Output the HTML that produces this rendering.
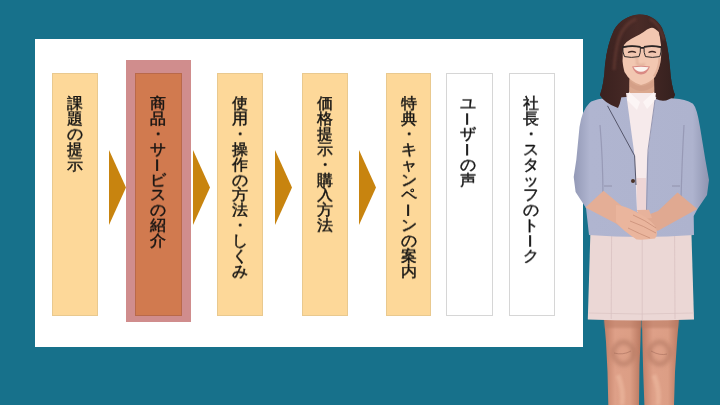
<!DOCTYPE html>
<html lang="ja"><head><meta charset="utf-8">
<style>
html,body{margin:0;padding:0;}
body{width:720px;height:405px;overflow:hidden;position:relative;background:#17718b;font-family:"Liberation Sans",sans-serif;}
.panel{position:absolute;left:35px;top:39px;width:548px;height:308px;background:#fff;}
.box{position:absolute;top:73px;height:243px;box-sizing:border-box;background:#fdd899;border:1px solid #e9c98f;}
.box.w{background:#fff;border:1px solid #d6d6d6;}
.hl{position:absolute;left:126px;top:60px;width:65px;height:262px;background:#d08d8d;}
.box.o{background:#d17a4f;border:1px solid #b9694a;}
.arr{position:absolute;top:150px;width:17px;height:75px;}
.t{position:absolute;top:95.5px;width:46px;text-align:center;font-size:15.5px;line-height:15.9px;transform:scaleY(0.96);transform-origin:0 0;color:#111;-webkit-text-stroke:0.45px #111;will-change:transform;}
.v{display:inline-block;transform:translateX(-2px) rotate(90deg) scaleX(0.88);}
</style></head><body>
<div class="panel"></div>
<div class="box" style="left:52px;width:46px"></div>
<div class="hl"></div>
<div class="box o" style="left:135px;width:47px"></div>
<div class="box" style="left:217px;width:46px"></div>
<div class="box" style="left:302px;width:46px"></div>
<div class="box" style="left:386px;width:45px"></div>
<div class="box w" style="left:446px;width:47px"></div>
<div class="box w" style="left:509px;width:46px"></div>
<svg class="arr" style="left:109px" viewBox="0 0 17 75"><polygon points="0,0 17,37.5 0,75" fill="#c8840f"/></svg>
<svg class="arr" style="left:192.5px" viewBox="0 0 17 75"><polygon points="0,0 17,37.5 0,75" fill="#c8840f"/></svg>
<svg class="arr" style="left:275px" viewBox="0 0 17 75"><polygon points="0,0 17,37.5 0,75" fill="#c8840f"/></svg>
<svg class="arr" style="left:359px" viewBox="0 0 17 75"><polygon points="0,0 17,37.5 0,75" fill="#c8840f"/></svg>
<div class="t" style="left:52px">課<br>題<br>の<br>提<br>示</div>
<div class="t" style="left:135px">商<br>品<br>・<br>サ<br><span class="v">ー</span><br>ビ<br>ス<br>の<br>紹<br>介</div>
<div class="t" style="left:217px">使<br>用<br>・<br>操<br>作<br>の<br>方<br>法<br>・<br>し<br>く<br>み</div>
<div class="t" style="left:302px">価<br>格<br>提<br>示<br>・<br>購<br>入<br>方<br>法</div>
<div class="t" style="left:386px">特<br>典<br>・<br>キ<br>ャ<br>ン<br>ペ<br><span class="v">ー</span><br>ン<br>の<br>案<br>内</div>
<div class="t" style="left:444.8px">ユ<br><span class="v">ー</span><br>ザ<br><span class="v">ー</span><br>の<br>声</div>
<div class="t" style="left:507.8px">社<br>長<br>・<br>ス<br>タ<br>ッ<br>フ<br>の<br>ト<br><span class="v">ー</span><br>ク</div>
<svg class="fig" width="720" height="405" viewBox="0 0 720 405" style="position:absolute;left:0;top:0">
<defs>
<linearGradient id="leg" x1="0" x2="1" y1="0" y2="0"><stop offset="0" stop-color="#c07e66"/><stop offset="0.3" stop-color="#dea088"/><stop offset="0.7" stop-color="#dc9e85"/><stop offset="1" stop-color="#b97860"/></linearGradient>
<linearGradient id="jk" x1="0" x2="1" y1="0" y2="0"><stop offset="0" stop-color="#9399b6"/><stop offset="0.12" stop-color="#b0b5d0"/><stop offset="0.88" stop-color="#aeb3ce"/><stop offset="1" stop-color="#8e94b0"/></linearGradient>
<linearGradient id="hair" x1="0" x2="1" y1="0" y2="0"><stop offset="0" stop-color="#3a211f"/><stop offset="0.5" stop-color="#4a2b27"/><stop offset="1" stop-color="#35201e"/></linearGradient>
<radialGradient id="knee" cx="0.5" cy="0.5" r="0.5"><stop offset="0" stop-color="#c78a72"/><stop offset="0.75" stop-color="#bb7e67"/><stop offset="1" stop-color="#d9a08a" stop-opacity="0"/></radialGradient>
<filter id="blur2" x="-50%" y="-50%" width="200%" height="200%"><feGaussianBlur stdDeviation="2"/></filter>
<filter id="blur1" x="-50%" y="-50%" width="200%" height="200%"><feGaussianBlur stdDeviation="1.2"/></filter>
</defs>
<!-- legs -->
<path d="M604,318 L641,318 L640.5,340 L639.5,365 L639,405 L608.3,405 L607.5,372 L606,342 Z" fill="url(#leg)"/>
<path d="M642,318 L679,318 L677,342 L675,372 L674,405 L644.4,405 L643.2,372 L642.4,342 Z" fill="url(#leg)"/>
<g filter="url(#blur2)" opacity="0.6">
<ellipse cx="623.5" cy="353" rx="10" ry="11" fill="none" stroke="#a96f5a" stroke-width="4"/>
<ellipse cx="659.5" cy="353" rx="10" ry="11" fill="none" stroke="#a96f5a" stroke-width="4"/>

</g>
<path d="M618,375 Q624,390 622,405 M654,375 Q660,390 658,405" stroke="#f0bea4" stroke-width="5" fill="none" opacity="0.5" filter="url(#blur1)"/>
<path d="M604,319 L679,319 L678,328 L605,328 Z" fill="#b87a64" opacity="0.5" filter="url(#blur1)"/>
<path d="M614,353 Q623,355.5 631,351 M651,351 Q660,356 667,354" stroke="#9c6453" stroke-width="0.7" fill="none" opacity="0.7"/>
<!-- skirt -->
<path d="M590.4,232 L691.4,232 L694,319.6 Q641,321.5 587.8,319.6 Z" fill="#ebd7d5"/>
<path d="M588.5,313 Q641,315 693.8,313" stroke="#dcc5c4" stroke-width="0.8" fill="none"/>
<path d="M611.6,236 L611.2,319 M642.2,236 L642.2,320 M674.6,236 L675,319" stroke="#d9c2c1" stroke-width="0.8" fill="none"/>
<!-- hair back -->
<path d="M639,14.5 Q622,16 614,30 Q607,45 605,65 Q604,84 600,95 Q604,103 618,108 L660,106 Q673,104 675,95 Q671,85 670,68 Q668,42 662,28 Q654,14 639,14.5 Z" fill="url(#hair)"/>
<!-- neck -->
<path d="M629.5,75 L654,75 L654.5,98 L629,98 Z" fill="#dba88f"/>
<path d="M629.5,80 Q640,92 654,80 L654,86 Q641,96 629.5,86 Z" fill="#cf9a82" opacity="0.6"/>
<!-- jacket -->
<path d="M603,98.5 Q592,100 589.5,103 Q582,110 579.5,127 L576.3,160 L573.7,177 L575.6,192 L586,208 L589,235 Q641,239 694,235 L693.7,216 L697.5,209 L707,195 L709,180 L705.4,160 L700,127 Q697,108 693,103.7 Q685,99 674,98.5 L656,97 L626,97 Z" fill="url(#jk)"/>
<path d="M600,125 Q603,160 603,200 M684,125 Q682,160 681,200" stroke="#8d8eab" stroke-width="1.2" fill="none" opacity="0.7"/>
<!-- shirt -->
<path d="M626,93 L656,93 L655,100 L647,160 L646,210 L637,210 L634.6,156 L627,100 Z" fill="#f6eaeb"/>
<path d="M629,92 L640,102 L637,110 L627,100 Z M654,92 L643,102 L647,109 L656,99 Z" fill="#fcf5f5"/>
<path d="M636.5,178 L646,178 L646.5,212 L637,212 Z" fill="#eed6d6"/>
<!-- lapel lines -->
<path d="M607.5,105.8 L634.6,155.8 L636,185" stroke="#55566b" stroke-width="1" fill="none"/>
<path d="M655,100 L648,150 L646.5,210" stroke="#8f91ad" stroke-width="0.9" fill="none"/>
<circle cx="633" cy="181" r="2" fill="#4a3228"/>
<path d="M604,186 L612,186 M672,186 L680,186" stroke="#8e8fa8" stroke-width="0.9"/>
<!-- forearms -->
<path d="M585.4,207.5 L603.5,190.8 L624.7,208.6 L637,212 L640,225 L637,239.5 L616,223.4 Z" fill="#e4ae96"/>
<path d="M697.3,208.9 L677.5,192.6 L658,211 L645,216 L645,230 L658,230.8 Z" fill="#e0a991"/>
<path d="M637,210 L649,209.8 L652,218 L640,219 Z" fill="#e7b29b"/>
<path d="M616,205 Q626,206 636,212 Q648,217 655,226 Q659,234 655,238.5 Q645,240 637,239.5 Q624,232 616,222 Z" fill="#eab59d"/>
<path d="M630,221 Q644,226 656,233 M633,215 Q645,220 656,228 M628,228 Q640,234 650,238" stroke="#c48a73" stroke-width="0.7" fill="none"/>
<!-- face -->
<path d="M622.5,46 Q621.5,62 624.5,72 Q630,82 641,85 Q651,82 655,77 Q660,68 661,58 Q662,45 659,32 Q650,24 640,26 Q628,30 622.5,46 Z" fill="#f2c7b1"/>
<path d="M655,77 Q660,68 661,58 L658.5,58 Q658,68 653,76 Z" fill="#d9a48c" opacity="0.6"/>
<path d="M636,56 Q638,62 637,64 Q641,66 645,64" stroke="#d19c86" stroke-width="1.4" fill="none" opacity="0.7" filter="url(#blur1)"/>
<!-- front hair / bangs -->
<path d="M639,14.5 Q622,16 614,30 Q607,45 605,65 Q604,84 600,95 Q604,103 618,108 Q622,100 622,88 Q620,70 622.5,58 Q622.5,50 624,45 Q627,41 631,38.9 Q636,36 639.6,34.4 Q644,32 647,29.5 Q652,26.5 657,28 Q660,32 661,44 Q664,62 661,78 Q657,92 656,99 Q666,104 675,95 Q671,85 670,68 Q668,42 662,28 Q654,14 639,14.5 Z" fill="url(#hair)"/>
<path d="M636,19 Q624,24 619,38 Q615,52 614,70 M650,19 Q660,24 664,40" stroke="#6a3e36" stroke-width="3" fill="none" opacity="0.6" filter="url(#blur1)"/>
<!-- eyes -->
<path d="M628,52.5 Q632,50.5 636,52.5" stroke="#3a2420" stroke-width="1.3" fill="none"/>
<path d="M648.5,52.5 Q652,50.5 656,52.5" stroke="#3a2420" stroke-width="1.3" fill="none"/>
<!-- glasses -->
<path d="M622.8,47.2 Q631,45.2 640.4,46.8 Q640.8,53 639,56.6 Q631,58.2 624.5,56.6 Q622.4,52 622.8,47.2 Z" fill="none" stroke="#2a2525" stroke-width="1"/>
<path d="M644,46.8 Q653,45.2 661.2,47.2 Q661.5,52 659.8,56.6 Q652,58.2 645.5,56.6 Q643.6,53 644,46.8 Z" fill="none" stroke="#2a2525" stroke-width="1"/>
<path d="M622.8,47.2 Q631,45.2 640.4,46.8 M644,46.8 Q653,45.2 661.2,47.2 M640.4,47.8 L644,47.8" stroke="#2a2525" stroke-width="1.8" fill="none"/>
<!-- mouth -->
<path d="M632,66.5 Q641,65 650,66.5 Q647,74.5 641,74.5 Q635,74.5 632,66.5 Z" fill="#d98a84"/>
<path d="M633.5,67.2 Q641,66.5 648.5,67.2 Q646,71.5 641,71.8 Q636,71.5 633.5,67.2 Z" fill="#fbf3ef"/>
</svg>
</body></html>
